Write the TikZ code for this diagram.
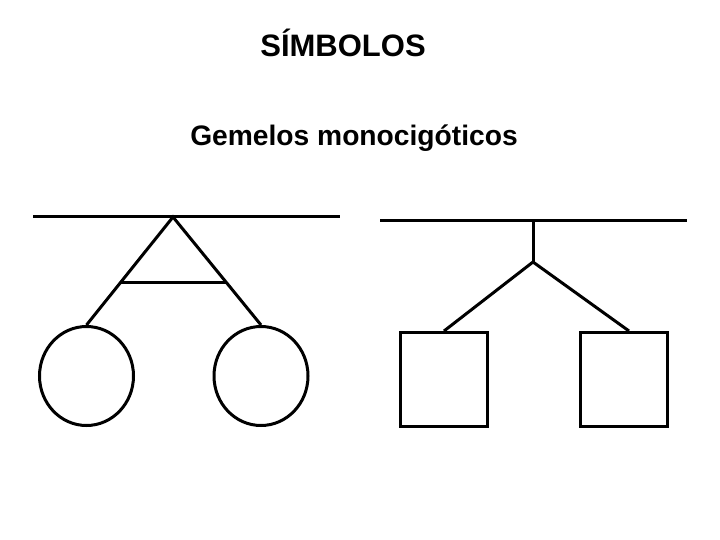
\documentclass[tikz,border=0pt]{standalone}
\usepackage{fontspec}
\setmainfont{Liberation Sans}
\usetikzlibrary{shapes.geometric,calc}

\begin{document}
\begin{tikzpicture}[x=1pt,y=-1pt,
  e/.style={line width=3pt},
  fem/.style={ellipse, draw, line width=3pt, minimum width=94pt, minimum height=99pt, inner sep=0pt},
  masc/.style={rectangle, draw, line width=3pt, minimum width=87pt, minimum height=94pt, inner sep=0pt},
  lbl/.style={anchor=base, inner sep=0pt, font=\bfseries}
]
\useasboundingbox (0,0) rectangle (720,540);

% --- titles ---
\node[lbl, font=\bfseries\fontsize{31}{37}\selectfont] (tit) at (343,57) {SÍMBOLOS};
\node[lbl, font=\bfseries\fontsize{28.2}{34}\selectfont] (sub) at (354,146) {Gemelos monocigóticos};

% --- left: twin girls ---
\coordinate (l1) at (33,217);
\coordinate (l2) at (340,217);
\coordinate (apex) at (173,217);
\node[fem] (g1) at (86.5,376) {};
\node[fem] (g2) at (261,376) {};

\draw[e] (l1)--(l2);
\draw[e] (g1.north)--(apex)--(g2.north);
% bar between the two branches
\draw[e] ($(apex)!0.61!(g1.north)$)--($(apex)!0.61!(g2.north)$);

% --- right: twin boys ---
\coordinate (r1) at (380,221);
\coordinate (r2) at (687,221);
\coordinate (top) at (533,221);
\coordinate (fork) at (533,262);
\node[masc] (b1) at (444,379.5) {};
\node[masc] (b2) at (624,379.5) {};

\draw[e] (r1)--(r2);
\draw[e] (top)--(fork);
\draw[e] (b1.north)--(fork)--($(b2.north)+(5,0)$);

\end{tikzpicture}
\end{document}
